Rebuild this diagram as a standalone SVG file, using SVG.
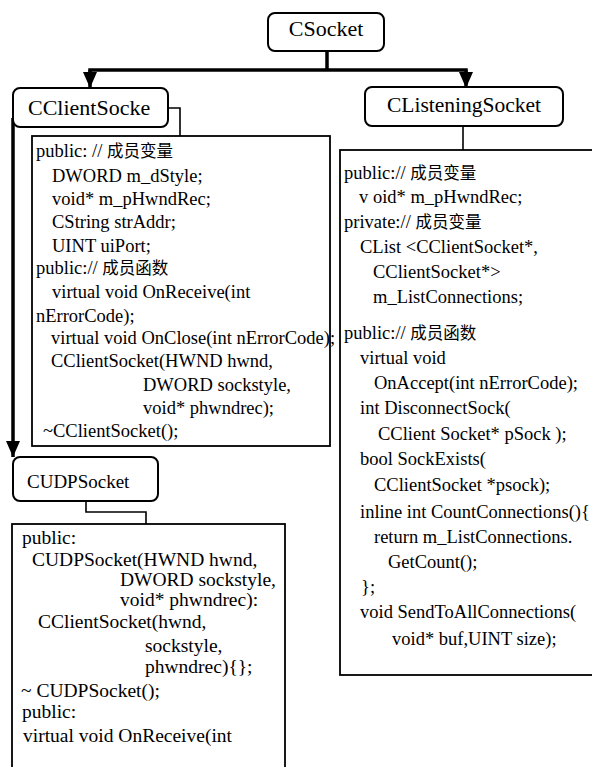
<svg xmlns="http://www.w3.org/2000/svg" width="592" height="767" viewBox="0 0 592 767">
  <style>
    .t { font-family: "Liberation Serif", "Times New Roman", Times, "DejaVu Serif", serif; fill: #000; }
    .cjk { font-family: "Noto Sans CJK SC", "Noto Sans CJK JP", sans-serif; font-size: 16.5px; }
    .m { font-size: 18.5px; }
    .b { font-size: 19.5px; }
    .title { fill: #fff; stroke: #000; stroke-width: 2; }
    .box { fill: #fff; stroke: #000; stroke-width: 1.8; }
    .thick { stroke: #000; stroke-width: 3.5; fill: none; }
    .thin { stroke: #000; stroke-width: 1.6; fill: none; }
  </style>
  <defs>
    <marker id="arr" viewBox="0 0 16 14" refX="16" refY="7" markerWidth="16" markerHeight="14" markerUnits="userSpaceOnUse" orient="auto">
      <path d="M0,0 L16,7 L0,14 Z" fill="#000"/>
    </marker>
  </defs>
  <rect width="592" height="767" fill="#fff"/>

  <g id="ccs-members">
    <rect class="box" x="32" y="136" width="298" height="310"/>
    <text class="t m" x="36" y="157">public: // <tspan class="cjk">成员变量</tspan></text>
    <text class="t m" x="52" y="182">DWORD m_dStyle;</text>
    <text class="t m" x="52" y="205">void* m_pHwndRec;</text>
    <text class="t m" x="52" y="228">CString strAddr;</text>
    <text class="t m" x="52" y="252">UINT uiPort;</text>
    <text class="t m" x="36" y="274">public:// <tspan class="cjk">成员函数</tspan></text>
    <text class="t m" x="52" y="298">virtual void OnReceive(int</text>
    <text class="t m" x="36" y="322">nErrorCode);</text>
    <text class="t m" x="51" y="344">virtual void OnClose(int nErrorCode);</text>
    <text class="t m" x="51" y="367">CClientSocket(HWND hwnd,</text>
    <text class="t m" x="143" y="391">DWORD sockstyle,</text>
    <text class="t m" x="143" y="414">void* phwndrec);</text>
    <text class="t m" x="43" y="437">~CClientSocket();</text>
  </g>

  <g id="cls-members">
    <rect class="box" x="340" y="150" width="270" height="525"/>
    <text class="t m" x="344" y="179">public:// <tspan class="cjk">成员变量</tspan></text>
    <text class="t m" x="359" y="203">v oid* m_pHwndRec;</text>
    <text class="t m" x="344" y="228">private:// <tspan class="cjk">成员变量</tspan></text>
    <text class="t m" x="360" y="253">CList &lt;CClientSocket*,</text>
    <text class="t m" x="373" y="278">CClientSocket*&gt;</text>
    <text class="t m" x="373" y="303">m_ListConnections;</text>
    <text class="t m" x="344" y="339">public:// <tspan class="cjk">成员函数</tspan></text>
    <text class="t m" x="360" y="364">virtual void</text>
    <text class="t m" x="374" y="389">OnAccept(int nErrorCode);</text>
    <text class="t m" x="360" y="414">int DisconnectSock(</text>
    <text class="t m" x="378" y="440">CClient Socket* pSock );</text>
    <text class="t m" x="360" y="465">bool SockExists(</text>
    <text class="t m" x="374" y="491">CClientSocket *psock);</text>
    <text class="t m" x="360" y="518">inline int CountConnections(){</text>
    <text class="t m" x="374" y="543">return m_ListConnections.</text>
    <text class="t m" x="388" y="568">GetCount();</text>
    <text class="t m" x="361" y="593">};</text>
    <text class="t m" x="360" y="618">void SendToAllConnections(</text>
    <text class="t m" x="392" y="645">void* buf,UINT size);</text>
  </g>

  <g id="udp-members">
    <rect class="box" x="12" y="524" width="273" height="260"/>
    <text class="t b" x="22" y="544">public:</text>
    <text class="t b" x="32" y="566">CUDPSocket(HWND hwnd,</text>
    <text class="t b" x="120" y="586">DWORD sockstyle,</text>
    <text class="t b" x="120" y="606">void* phwndrec):</text>
    <text class="t b" x="38" y="628">CClientSocket(hwnd,</text>
    <text class="t b" x="145" y="652">sockstyle,</text>
    <text class="t b" x="145" y="673">phwndrec){};</text>
    <text class="t b" x="21" y="697">~ CUDPSocket();</text>
    <text class="t b" x="22" y="718">public:</text>
    <text class="t b" x="23" y="742">virtual void OnReceive(int</text>
  </g>

  <g id="connectors">
    <line class="thick" x1="327" y1="51" x2="327" y2="70"/>
    <line class="thick" x1="88.25" y1="70" x2="467.75" y2="70"/>
    <line class="thick" x1="90" y1="70" x2="90" y2="88" marker-end="url(#arr)"/>
    <line class="thick" x1="466" y1="70" x2="466" y2="88" marker-end="url(#arr)"/>
    <line class="thick" x1="13" y1="118" x2="13" y2="457" marker-end="url(#arr)"/>
    <polyline class="thin" points="168,108 180,108 180,136"/>
    <line class="thin" x1="463" y1="126" x2="463" y2="150"/>
    <polyline class="thin" points="86,501 86,512 146,512 146,524"/>
  </g>

  <g id="csocket">
    <rect class="title" x="268" y="13" width="116" height="38" rx="7"/>
    <text class="t" x="326" y="36" font-size="22" text-anchor="middle">CSocket</text>
  </g>
  <g id="cclientsocke">
    <rect class="title" x="13" y="88" width="155" height="39" rx="7"/>
    <text class="t" x="28" y="115" font-size="22">CClientSocke</text>
  </g>
  <g id="clisteningsocket">
    <rect class="title" x="365" y="87" width="198" height="39" rx="7"/>
    <text class="t" x="464" y="112" font-size="21.5" text-anchor="middle">CListeningSocket</text>
  </g>
  <g id="cudpsocket">
    <rect class="title" x="13" y="457" width="145" height="44" rx="7"/>
    <text class="t" x="27" y="488" font-size="19">CUDPSocket</text>
  </g>
</svg>
